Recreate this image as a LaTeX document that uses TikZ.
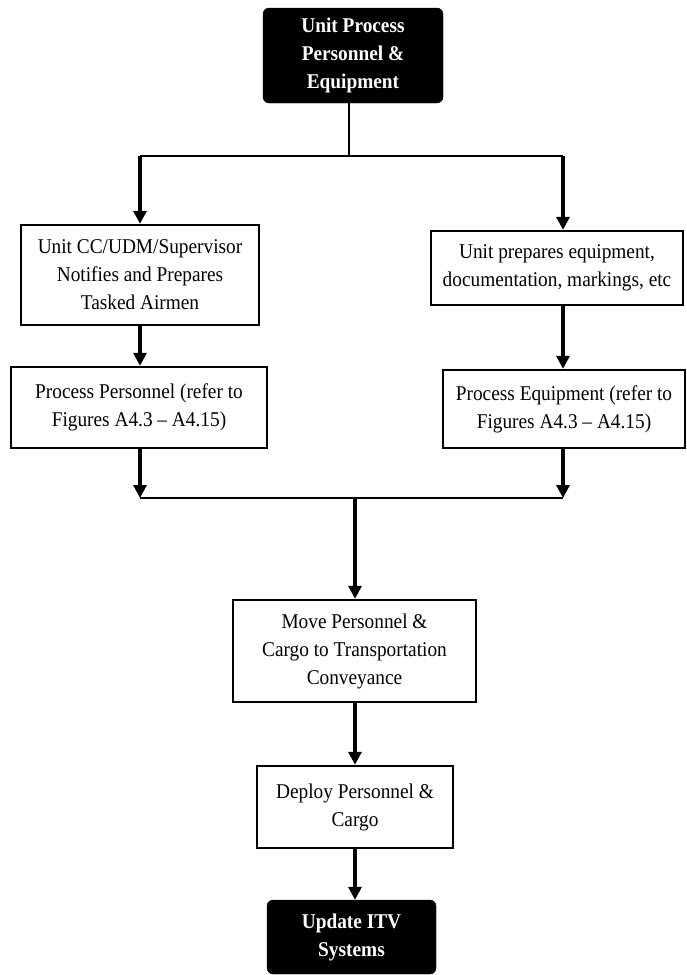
\documentclass[tikz,border=0pt]{standalone}
\usepackage{fontspec}
\setmainfont{Liberation Serif}[FakeStretch=0.92]
\usetikzlibrary{arrows.meta}
\begin{document}
\begin{tikzpicture}[x=1pt,y=-1pt,
  every node/.style={font=\fontsize{21}{28}\selectfont, align=center, inner sep=0pt},
  procbox/.style={draw=black, line width=2.4pt, fill=white},
  termbox/.style={draw=black, fill=black, rounded corners=6pt, text=white,
                  font=\fontsize{21}{28}\selectfont\bfseries},
  flow/.style={line width=3.2pt, -{Triangle[width=13pt,length=13pt]}},
  bus/.style={line width=2pt}
]
\useasboundingbox (0,0) rectangle (686,975);

% terminals and process boxes
\node[termbox, minimum width=180pt, minimum height=95pt] (start) at (353,55.5)
  {Unit Process\\Personnel \&\\Equipment};
\node[procbox, minimum width=238pt, minimum height=100pt] (notify) at (140,275)
  {Unit CC/UDM/Supervisor\\Notifies and Prepares\\Tasked Airmen};
\node[procbox, minimum width=256pt, minimum height=81pt] (procpers) at (139,407.5)
  {Process Personnel (refer to\\Figures A4.3 -- A4.15)};
\node[procbox, minimum width=252pt, minimum height=74pt] (prepequip) at (557,268)
  {Unit prepares equipment,\\documentation, markings, etc};
\node[procbox, minimum width=242pt, minimum height=78pt] (procequip) at (564,409)
  {Process Equipment (refer to\\Figures A4.3 -- A4.15)};
\node[procbox, minimum width=243pt, minimum height=102pt] (move) at (354.5,651)
  {Move Personnel \&\\Cargo to Transportation\\Conveyance};
\node[procbox, minimum width=196pt, minimum height=82pt] (deploy) at (355,807)
  {Deploy Personnel \&\\Cargo};
\node[termbox, minimum width=169pt, minimum height=74pt] (itv) at (351.5,937)
  {Update ITV\\Systems};

% branch and merge points
\coordinate (split) at (349,156);
\coordinate (splitL) at (140,156);
\coordinate (splitR) at (563,156);
\coordinate (joinL) at (140,498);
\coordinate (joinR) at (563,498);
\coordinate (join) at (355,498);

% connectors
\draw[line width=1.4pt] (start.south -| split) -- (split);
\draw[bus] (splitL) -- (splitR);
\draw[flow] (splitL) -- (notify.north -| splitL);
\draw[flow] (splitR) -- (prepequip.north -| splitR);
\draw[flow] (notify.south -| splitL) -- (procpers.north -| splitL);
\draw[flow] (prepequip.south -| splitR) -- (procequip.north -| splitR);
\draw[flow] (procpers.south -| joinL) -- (joinL);
\draw[flow] (procequip.south -| joinR) -- (joinR);
\draw[bus] (joinL) -- (joinR);
\draw[flow] (join) -- (move.north -| join);
\draw[flow] (move.south -| join) -- (deploy.north -| join);
\draw[flow] (deploy.south -| join) -- (itv.north -| join);
\end{tikzpicture}
\end{document}
